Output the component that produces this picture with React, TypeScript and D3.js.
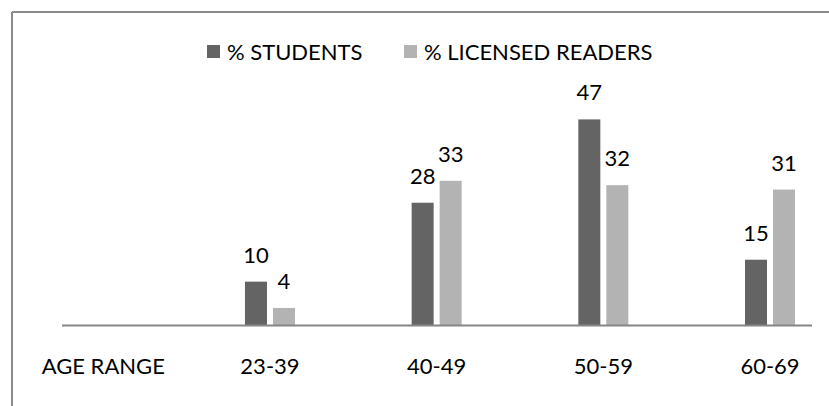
import React from "react";
import * as d3 from "d3";

const categories = ["AGE RANGE", "23-39", "40-49", "50-59", "60-69"];
const students: (number | null)[] = [null, 10, 28, 47, 15];
const licensed: (number | null)[] = [null, 4, 33, 32, 31];
const seriesNames = ["% STUDENTS", "% LICENSED READERS"];
const seriesColors = ["#646464", "#b3b3b3"];

const W = 829;
const H = 406;
const FONT = "Lato, sans-serif";
const FS = 22;

export default function App() {
  const x = d3.scalePoint<string>().domain(categories).range([103.3, 770]);
  const y = d3.scaleLinear().domain([0, 50]).range([325.5, 106.25]);
  const barW = 22;
  const offsets = [-25, 3];
  const series = [students, licensed];

  return (
    <svg
      width={W}
      height={H}
      style={{ position: "absolute", left: 0, top: 0, background: "#fff" }}
    >
      <rect x={0} y={0} width={W} height={H} fill="#fff" />
      {/* frame */}
      <line x1={12} y1={12} x2={W} y2={12} stroke="#8a8a8a" strokeWidth={2} />
      <line x1={12} y1={12} x2={12} y2={H} stroke="#8a8a8a" strokeWidth={2} />

      {/* legend */}
      <g fontFamily={FONT} fontSize={FS} fill="#000">
        <rect x={207} y={45} width={13} height={13} fill={seriesColors[0]} />
        <text x={227} y={60}>{seriesNames[0]}</text>
        <rect x={404} y={45} width={13} height={13} fill={seriesColors[1]} />
        <text x={424} y={60}>{seriesNames[1]}</text>
      </g>

      {/* bars */}
      {series.map((vals, si) =>
        categories.map((c, i) => {
          const v = vals[i];
          if (v == null) return null;
          const cx = x(c)! + offsets[si];
          return (
            <g key={`${si}-${i}`}>
              <rect
                x={cx}
                y={y(v)}
                width={barW}
                height={y(0) - y(v)}
                fill={seriesColors[si]}
              />
              <text
                x={cx + barW / 2}
                y={y(v) - 19}
                textAnchor="middle"
                fontFamily={FONT}
                fontSize={FS}
                fill="#000"
              >
                {v}
              </text>
            </g>
          );
        })
      )}

      {/* axis */}
      <line x1={62} y1={325.5} x2={812} y2={325.5} stroke="#868686" strokeWidth={2} />
      {categories.map((c) => (
        <text
          key={c}
          x={x(c)!}
          y={374}
          textAnchor="middle"
          fontFamily={FONT}
          fontSize={FS}
          fill="#000"
        >
          {c}
        </text>
      ))}
    </svg>
  );
}
